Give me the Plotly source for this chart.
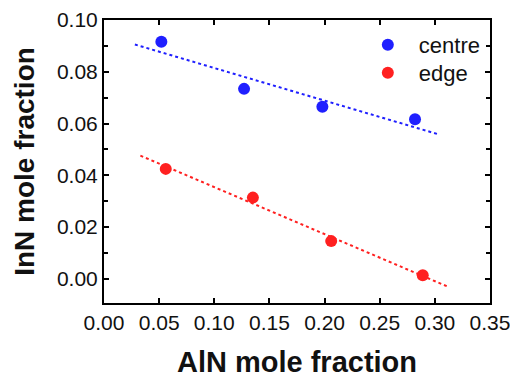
import numpy as np
import plotly.graph_objects as go

# Data
centre_x = [0.052, 0.127, 0.198, 0.282]
centre_y = [0.0916, 0.0734, 0.0665, 0.0617]
edge_x = [0.056, 0.135, 0.206, 0.289]
edge_y = [0.0425, 0.0314, 0.0146, 0.0014]
centre_fit_range = [0.028, 0.302]
edge_fit_range = [0.033, 0.311]

x_ticks = [0.00, 0.05, 0.10, 0.15, 0.20, 0.25, 0.30, 0.35]
y_ticks = [0.00, 0.02, 0.04, 0.06, 0.08, 0.10]

BLUE = "#1f1fff"
RED = "#ff2020"
FONT = "Liberation Sans, Arial, sans-serif"

def fit_line(xs, ys, rng):
    m, b = np.polyfit(xs, ys, 1)
    xx = np.array(rng)
    return xx, m * xx + b

fig = go.Figure()

cx, cy = fit_line(centre_x, centre_y, centre_fit_range)
ex, ey = fit_line(edge_x, edge_y, edge_fit_range)

fig.add_trace(go.Scatter(x=cx, y=cy, mode="lines", showlegend=False,
                         line=dict(color=BLUE, width=2, dash="dot"), hoverinfo="skip"))
fig.add_trace(go.Scatter(x=ex, y=ey, mode="lines", showlegend=False,
                         line=dict(color=RED, width=2, dash="dot"), hoverinfo="skip"))
fig.add_trace(go.Scatter(x=centre_x, y=centre_y, mode="markers", name="centre",
                         legend="legend", marker=dict(color=BLUE, size=12)))
fig.add_trace(go.Scatter(x=edge_x, y=edge_y, mode="markers", name="edge",
                         legend="legend2", marker=dict(color=RED, size=12)))

axis_common = dict(showline=True, linecolor="black", linewidth=2, mirror="allticks",
                   ticks="inside", ticklen=5, tickwidth=1.5, tickcolor="black",
                   showgrid=False, zeroline=False, automargin=False,
                   ticklabeloverflow="allow",
                   tickfont=dict(family=FONT, size=21, color="#111"))

fig.update_xaxes(range=[0, 0.35], tickvals=x_ticks,
                 ticktext=[f"{v:.2f}" for v in x_ticks],
                 title=dict(text="<b>AlN mole fraction</b>", standoff=18,
                            font=dict(family=FONT, size=29, color="#111")),
                 **axis_common)
fig.update_yaxes(range=[-0.0093, 0.1], tickvals=y_ticks,
                 ticktext=[f"{v:.2f}" for v in y_ticks],
                 minor=dict(dtick=0.01, tick0=0, ticks="inside", ticklen=4, tickcolor="black"),
                 title=dict(text="<b>InN mole fraction</b>", standoff=14,
                            font=dict(family=FONT, size=28, color="#111")),
                 **axis_common)

legend_common = dict(xanchor="left", yanchor="middle", bgcolor="rgba(0,0,0,0)",
                     itemwidth=52, font=dict(family=FONT, size=22, color="#111"))

fig.update_layout(
    width=510, height=381,
    margin=dict(l=104, r=20, t=20, b=78),
    plot_bgcolor="white", paper_bgcolor="white",
    legend=dict(x=0.655, y=0.912, **legend_common),
    legend2=dict(x=0.655, y=0.813, **legend_common),
)

fig.write_html("out.html", config={"displayModeBar": False},
               post_script="document.body.style.margin='0';")
